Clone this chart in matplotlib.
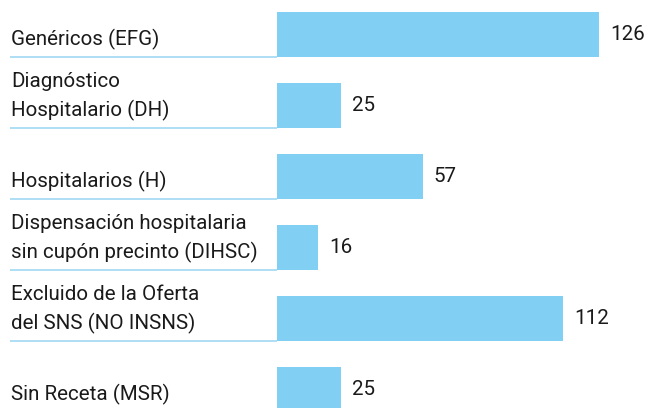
import matplotlib
matplotlib.use("Agg")
import matplotlib.pyplot as plt

categories = [
    "Genéricos (EFG)",
    "Diagnóstico\nHospitalario (DH)",
    "Hospitalarios (H)",
    "Dispensación hospitalaria\nsin cupón precinto (DIHSC)",
    "Excluido de la Oferta\ndel SNS (NO INSNS)",
    "Sin Receta (MSR)",
]
values = [126, 25, 57, 16, 112, 25]

BAR_COLOR = "#82cff4"
LINE_COLOR = "#a8dcf5"
TEXT_COLOR = "#1a1a1a"

plt.rcParams['font.family'] = ['Roboto', 'DejaVu Sans']

W, H, DPI = 646, 408, 100
fig = plt.figure(figsize=(W / DPI, H / DPI), dpi=DPI)
ax = fig.add_axes([0, 0, 1, 1])

# pixel layout of the reference
x0_px = 277          # where bars start
px_per_unit = 2.556  # bar scale
row_px = 71          # distance between bars
first_center_px = 34.5
bar_h = 45 / row_px

ax.set_xlim(-x0_px / px_per_unit, (W - x0_px) / px_per_unit)
ax.set_ylim((H - first_center_px) / row_px, -first_center_px / row_px)
ax.axis('off')

ypos = list(range(len(values)))
ax.barh(ypos, values, height=bar_h, color=BAR_COLOR, zorder=2)

label_x = (10 - x0_px) / px_per_unit
for y, cat, v in zip(ypos, categories, values):
    bottom = y + bar_h / 2
    ax.plot([label_x, 0], [bottom, bottom], color=LINE_COLOR, lw=1.3,
            solid_capstyle='butt', zorder=1, clip_on=False)
    ax.annotate(cat, (label_x, bottom), xytext=(1, 7), textcoords='offset pixels',
                ha='left', va='bottom', fontsize=14.8, color=TEXT_COLOR,
                linespacing=1.55, annotation_clip=False)
    ax.annotate(str(v), (v, y), xytext=(11, 0), textcoords='offset pixels',
                ha='left', va='center', fontsize=14.8, color=TEXT_COLOR,
                annotation_clip=False)

fig.savefig("out.png", dpi=DPI)
